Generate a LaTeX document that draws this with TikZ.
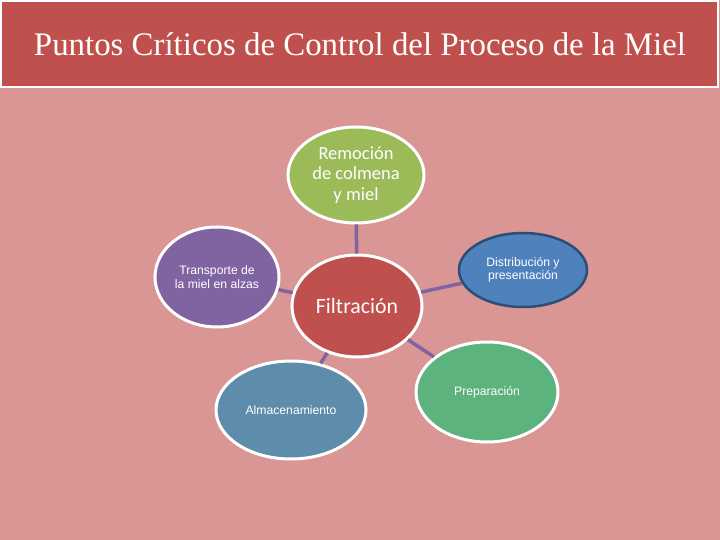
\documentclass[tikz,border=0pt]{standalone}
\usepackage{fontspec}
\setmainfont{Liberation Serif}
\newfontfamily\calib{Carlito}
\newfontfamily\arialf{Liberation Sans}
\usetikzlibrary{shapes.geometric}
\definecolor{bgpink}{HTML}{D99694}
\definecolor{titlered}{HTML}{C0504D}
\definecolor{linkpurple}{HTML}{8064A2}
\definecolor{remgreen}{HTML}{9BBB59}
\definecolor{transpurple}{HTML}{8064A2}
\definecolor{filtred}{HTML}{C0504D}
\definecolor{distblue}{HTML}{4F81BD}
\definecolor{distborder}{HTML}{2C4D75}
\definecolor{prepgreen}{HTML}{5DB37E}
\definecolor{almblue}{HTML}{5E8CAB}
\tikzset{
  bubble/.style={ellipse, draw=white, line width=3pt, inner sep=0pt, text=white, align=center},
  link/.style={draw=linkpurple, line width=3.5pt},
  smalltxt/.style={font=\arialf\fontsize{12.2}{13.5}\selectfont},
}
\begin{document}
\begin{tikzpicture}[x=1pt,y=-1pt]
\useasboundingbox (0,0) rectangle (720,540);
\fill[bgpink] (0,0) rectangle (720,540);
\draw[fill=titlered, draw=white, line width=2pt] (1,1) rectangle (718,87);
\node[text=white] (title) at (360,44) {\resizebox{652pt}{!}{\fontsize{30}{34}\selectfont Puntos Críticos de Control del Proceso de la Miel}};
% nodes
\node[bubble, fill=remgreen, minimum width=136pt, minimum height=96pt, font=\calib\fontsize{18.5}{20.5}\selectfont] (rem) at (356,175) {Remoción\\de colmena\\y miel};
\node[bubble, fill=transpurple, minimum width=124pt, minimum height=100pt, smalltxt] (tra) at (217,277) {Transporte de\\la miel en alzas};
\node[bubble, fill=filtred, minimum width=130pt, minimum height=102pt, font=\calib\fontsize{21.8}{24}\selectfont] (fil) at (357,306) {Filtración};
\node[ellipse, draw=distborder, line width=2.5pt, fill=distblue, text=white, align=center, inner sep=0pt, minimum width=128pt, minimum height=74pt, smalltxt] (dis) at (523,270) {Distribución y\\presentación};
\node[bubble, fill=prepgreen, minimum width=142pt, minimum height=100pt, smalltxt] (pre) at (487,392) {Preparación};
\node[bubble, fill=almblue, minimum width=150pt, minimum height=98pt, smalltxt] (alm) at (291,410) {Almacenamiento};
% links
\draw[link] (rem) -- (fil);
\draw[link] (tra) -- (fil);
\draw[link] (fil) -- (dis);
\draw[link] (fil) -- (pre);
\draw[link] (fil) -- (alm);
\end{tikzpicture}
\end{document}
